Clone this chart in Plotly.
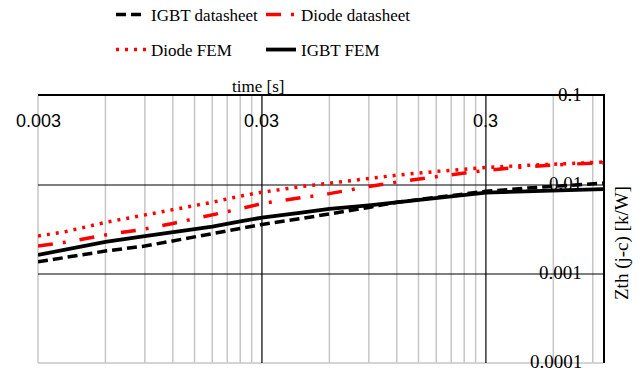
import math
import plotly.graph_objects as go

# time [s]
time_s = [0.003, 0.004, 0.006, 0.009, 0.012, 0.018, 0.024, 0.03, 0.045, 0.06,
          0.09, 0.12, 0.18, 0.3, 0.45, 0.6, 1.0]
igbt_datasheet = [0.00137, 0.00155, 0.00181, 0.00206, 0.00235, 0.0028, 0.0032, 0.0036, 0.0042, 0.0047,
                  0.0056, 0.0064, 0.0073, 0.0085, 0.0092, 0.0097, 0.0105]
diode_datasheet = [0.00206, 0.00228, 0.00275, 0.0032, 0.0037, 0.0046, 0.0054, 0.0062, 0.0072, 0.0080,
                   0.0096, 0.0108, 0.0124, 0.0146, 0.0160, 0.0168, 0.0178]
diode_fem = [0.00267, 0.0030, 0.0038, 0.0046, 0.0052, 0.0064, 0.0075, 0.0083, 0.0096, 0.0105,
             0.0119, 0.0129, 0.0142, 0.0157, 0.0166, 0.0172, 0.0181]
igbt_fem = [0.00164, 0.0019, 0.00229, 0.00267, 0.00296, 0.0034, 0.0039, 0.0043, 0.0049, 0.0054,
            0.0059, 0.0064, 0.0072, 0.0082, 0.0085, 0.0087, 0.0090]

x_ticks = [0.003, 0.03, 0.3]
x_ticktext = ["0.003", "0.03", "0.3"]
y_ticks = [0.0001, 0.001, 0.01, 0.1]
y_ticktext = ["0.0001", "0.001", "0.01", "0.1"]
x_minor = [k * base for base in (0.003, 0.03, 0.3) for k in range(2, 10) if k * base < 1.0]

X_RANGE = [math.log10(0.003), 0.0]
Y_RANGE = [-4, -1]

SERIF = "Liberation Serif, Times New Roman, serif"
SANS = "Liberation Sans, Arial, sans-serif"

W, H = 643, 372
L, R, T, B = 38, 40, 96, 9
PW, PH = W - L - R, H - T - B


def xp(v):
    return (math.log10(v) - X_RANGE[0]) / (X_RANGE[1] - X_RANGE[0])


def yp(v):
    return (math.log10(v) - Y_RANGE[0]) / (Y_RANGE[1] - Y_RANGE[0])


fig = go.Figure()
fig.add_trace(go.Scatter(x=time_s, y=igbt_datasheet, mode="lines", name="IGBT datasheet",
                         line=dict(color="black", width=3.5, dash="10px,5px"), legend="legend"))
fig.add_trace(go.Scatter(x=time_s, y=diode_datasheet, mode="lines", name="Diode datasheet",
                         line=dict(color="#ff0000", width=3.5, dash="15px,10px,3px,14px"), legend="legend"))
fig.add_trace(go.Scatter(x=time_s, y=diode_fem, mode="lines", name="Diode FEM",
                         line=dict(color="#ff0000", width=3.5, dash="3px,6px"), legend="legend2"))
fig.add_trace(go.Scatter(x=time_s, y=igbt_fem, mode="lines", name="IGBT FEM",
                         line=dict(color="black", width=3.8), legend="legend2"))

shapes = []
# minor vertical gridlines (gray)
for v in x_minor:
    shapes.append(dict(type="line", xref="paper", yref="paper", x0=xp(v), x1=xp(v), y0=0, y1=1,
                       line=dict(color="#c6c6c6", width=1.5), layer="below"))
# left and bottom frame (gray)
shapes.append(dict(type="line", xref="paper", yref="paper", x0=0, x1=0, y0=0, y1=1,
                   line=dict(color="#c6c6c6", width=1.5), layer="below"))
shapes.append(dict(type="line", xref="paper", yref="paper", x0=0, x1=1, y0=0, y1=0,
                   line=dict(color="#c6c6c6", width=1.5), layer="below"))
# major vertical gridlines (black)
for v in x_ticks[1:]:
    shapes.append(dict(type="line", xref="paper", yref="paper", x0=xp(v), x1=xp(v), y0=0, y1=1,
                       line=dict(color="black", width=1.2), layer="below"))
# major horizontal gridlines (black)
for v in y_ticks[1:3]:
    shapes.append(dict(type="line", xref="paper", yref="paper", x0=0, x1=1, y0=yp(v), y1=yp(v),
                       line=dict(color="black", width=1.2), layer="below"))

annotations = []
for v, t in zip(x_ticks, x_ticktext):
    annotations.append(dict(text=t, xref="paper", yref="paper", x=xp(v), y=1 - (121 - T) / PH,
                            xanchor="center", yanchor="middle", showarrow=False,
                            font=dict(family=SANS, size=18, color="black")))
for v, t in zip(y_ticks, y_ticktext):
    annotations.append(dict(text=t, xref="paper", yref="paper", x=(584 - L) / PW, y=yp(v),
                            xanchor="right", yanchor="middle", showarrow=False, yshift=2,
                            font=dict(family=SERIF, size=19, color="black")))
annotations.append(dict(text="time [s]", xref="paper", yref="paper", x=(258 - L) / PW,
                        y=1 + (T - 87) / PH, xanchor="center", yanchor="middle",
                        showarrow=False, font=dict(family=SERIF, size=17)))
annotations.append(dict(text="Zth (j-c) [k/W]", xref="paper", yref="paper", x=(622 - L) / PW,
                        y=1 - (243 - T) / PH, xanchor="center", yanchor="middle", textangle=-90,
                        showarrow=False, font=dict(family=SERIF, size=19)))

fig.update_layout(
    width=W, height=H,
    margin=dict(l=L, r=R, t=T, b=B),
    paper_bgcolor="white", plot_bgcolor="white",
    font=dict(family=SERIF, size=17, color="black"),
    legend=dict(orientation="h", xref="container", yref="container",
                x=111 / W, xanchor="left", y=1 - 15 / H, yanchor="middle",
                entrywidth=105, font=dict(family=SERIF, size=17), bgcolor="rgba(0,0,0,0)"),
    legend2=dict(orientation="h", xref="container", yref="container",
                 x=111 / W, xanchor="left", y=1 - 50 / H, yanchor="middle",
                 entrywidth=105, font=dict(family=SERIF, size=17), bgcolor="rgba(0,0,0,0)"),
    xaxis=dict(type="log", range=X_RANGE, side="top", showticklabels=False, ticks="",
               showgrid=False, showline=True, linecolor="black", linewidth=1.5, zeroline=False),
    yaxis=dict(type="log", range=Y_RANGE, side="right", showticklabels=False, ticks="",
               showgrid=False, showline=True, linecolor="black", linewidth=1.5, zeroline=False),
    shapes=shapes,
    annotations=annotations,
)

fig.write_html("out.html")
